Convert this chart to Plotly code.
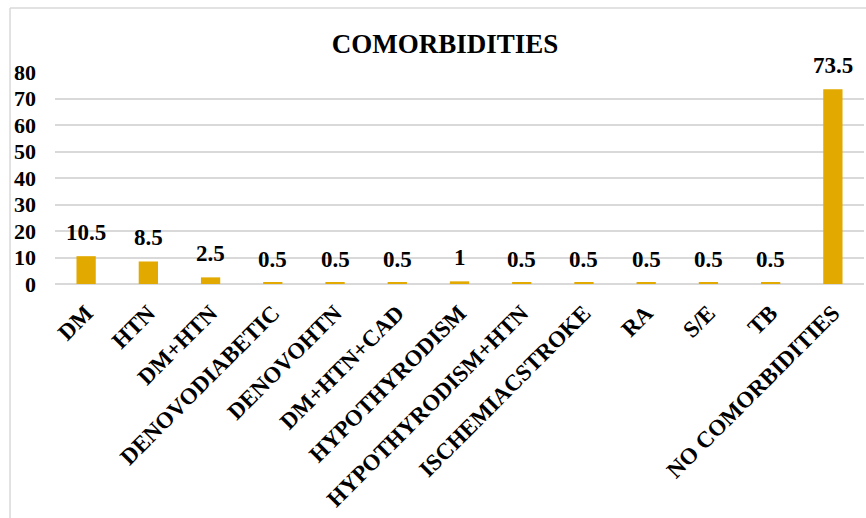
import plotly.graph_objects as go

categories = [
    "DM", "HTN", "DM+HTN", "DENOVODIABETIC", "DENOVOHTN", "DM+HTN+CAD",
    "HYPOTHYRODISM", "HYPOTHYRODISM+HTN", "ISCHEMIACSTROKE", "RA", "S/E", "TB",
    "NO COMORBIDITIES",
]
values = [10.5, 8.5, 2.5, 0.5, 0.5, 0.5, 1, 0.5, 0.5, 0.5, 0.5, 0.5, 73.5]
value_labels = ["10.5", "8.5", "2.5", "0.5", "0.5", "0.5", "1", "0.5", "0.5",
                "0.5", "0.5", "0.5", "73.5"]
y_ticks = [0, 10, 20, 30, 40, 50, 60, 70, 80]

SERIF = "Liberation Serif, Times New Roman, serif"
GRID = "#D9D9D9"
BAR = "#E2AA00"

fig = go.Figure(
    go.Bar(
        x=categories,
        y=values,
        width=0.31,
        marker=dict(color=BAR, line=dict(width=0)),
        hoverinfo="x+y",
    )
)

# value labels above each bar
for cat, val, lab in zip(categories, values, value_labels):
    fig.add_annotation(
        x=cat, y=val, text=lab, showarrow=False,
        yanchor="bottom", yshift=9,
        font=dict(family=SERIF, size=23, color="black", weight="bold"),
    )

# outer chart frame (left and top edges)
fig.add_shape(type="line", xref="paper", yref="paper",
              x0=-0.0556, x1=-0.0556, y0=1.302, y1=-1.2,
              line=dict(color=GRID, width=1.5))
fig.add_shape(type="line", xref="paper", yref="paper",
              x0=-0.0556, x1=1.2, y0=1.302, y1=1.302,
              line=dict(color=GRID, width=1.5))

fig.update_layout(
    width=866, height=518,
    margin=dict(l=55, r=2, t=72, b=234),
    paper_bgcolor="white", plot_bgcolor="white",
    showlegend=False,
    title=dict(
        text="COMORBIDITIES",
        x=445 / 866, xanchor="center", xref="container",
        y=1 - 44 / 518, yanchor="middle", yref="container",
        font=dict(family=SERIF, size=27, color="black", weight="bold"),
    ),
    xaxis=dict(
        tickangle=-45,
        tickfont=dict(family=SERIF, size=23, color="black", weight="bold"),
        showgrid=False, showline=False, zeroline=False,
        ticks="", ticklabelstandoff=10,
    ),
    yaxis=dict(
        range=[0, 80],
        tickvals=y_ticks,
        tickfont=dict(family=SERIF, size=22, color="black", weight="bold"),
        showgrid=True, gridcolor=GRID, gridwidth=1.5,
        zeroline=True, zerolinecolor=GRID, zerolinewidth=1.5,
        showline=False, ticks="", ticklabelstandoff=18,
    ),
)

fig.write_html("out.html")
